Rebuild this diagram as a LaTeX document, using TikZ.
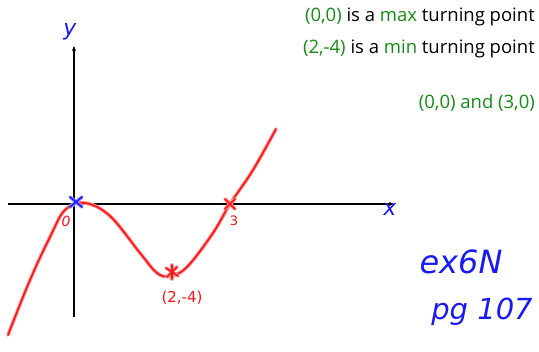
\documentclass[tikz,border=0pt]{standalone}
\usepackage{fontspec}
\usetikzlibrary{arrows.meta}
\setmainfont{Open Sans}
\newfontfamily\handfont{DejaVu Sans}
\definecolor{tgreen}{RGB}{20,140,20}
\definecolor{pen}{RGB}{25,25,245}
\definecolor{redpen}{RGB}{250,20,20}
\begin{document}
\begin{tikzpicture}[x=1pt,y=-1pt,
  axis/.style={line width=1.6pt,black,-{Stealth[length=5pt,width=4pt]}},
  redglow/.style={line width=3.6pt,redpen!45,line cap=round,line join=round},
  redline/.style={line width=1.6pt,redpen,line cap=round,line join=round},
  blueglow/.style={line width=3.6pt,pen!45,line cap=round},
  blueline/.style={line width=1.6pt,pen,line cap=round},
  info/.style={anchor=east,inner sep=0pt,font=\fontsize{18.5}{20}\selectfont},
  hand/.style={text=pen,inner sep=0pt,font=\handfont\itshape},
  redlab/.style={text=redpen,inner sep=0pt,font=\handfont\itshape}]
\useasboundingbox (0,0) rectangle (539,352);
% axes
\coordinate (xs) at (8,204);
\coordinate (xe) at (394,204);
\coordinate (ys) at (74,317);
\coordinate (ye) at (74,46);
\draw[axis] (xs) -- (xe);
\draw[axis] (ys) -- (ye);
% curve
\draw[redglow] plot[smooth,tension=0.6] coordinates {(8,335) (30,280) (50,237) (65,210) (85,203) (110,216) (140,253) (157,273) (170,276) (187,267) (213,233) (230,204) (253,170) (276,129)};
\draw[redline] plot[smooth,tension=0.6] coordinates {(8,335) (30,280) (50,237) (65,210) (85,203) (110,216) (140,253) (157,273) (170,276) (187,267) (213,233) (230,204) (253,170) (276,129)};
% crosses
\coordinate (o) at (76,202);
\coordinate (t) at (230,204);
\coordinate (m) at (172,272);
\foreach \s in {blueglow,blueline}{
  \draw[\s] ([shift={(-6,-5)}]o) -- ([shift={(6,5)}]o);
  \draw[\s] ([shift={(-6,5)}]o) -- ([shift={(6,-5)}]o);
}
\foreach \s in {redglow,redline}{
  \draw[\s] ([shift={(-5,-5)}]t) -- ([shift={(5,5)}]t);
  \draw[\s] ([shift={(-5,5)}]t) -- ([shift={(5,-5)}]t);
  \draw[\s] ([shift={(-6,-4)}]m) -- ([shift={(6,4)}]m);
  \draw[\s] ([shift={(-5,5)}]m) -- ([shift={(5,-5)}]m);
  \draw[\s] ([shift={(0,-7)}]m) -- ([shift={(0,7)}]m);
}
% labels on graph
\node[redlab,font=\handfont\itshape\fontsize{14}{15}\selectfont] (l0) at (66,221) {0};
\node[redlab,font=\handfont\fontsize{13}{14}\selectfont] (l3) at (234,221) {3};
\node[redlab,font=\handfont\fontsize{15}{16}\selectfont] (lm) at (182,298) {(2,-4)};
\node[hand,font=\handfont\itshape\fontsize{22}{24}\selectfont] (ly) at (70,32) {y};
\node[hand,font=\handfont\itshape\fontsize{22}{24}\selectfont] (lx) at (390,209) {x};
% notes
\node[info] (n1) at (535,17) {\textcolor{tgreen}{(0,0)} is a \textcolor{tgreen}{max} turning point};
\node[info] (n2) at (535,49) {\textcolor{tgreen}{(2,-4)} is a \textcolor{tgreen}{min} turning point};
\node[info,text=tgreen] (n3) at (535,103) {(0,0) and (3,0)};
% handwritten reference
\node[hand,font=\handfont\itshape\fontsize{32}{34}\selectfont] (ex) at (461,262) {ex6N};
\node[hand,font=\handfont\itshape\fontsize{29}{31}\selectfont] (pg) at (482,312) {pg 107};
\end{tikzpicture}
\end{document}
